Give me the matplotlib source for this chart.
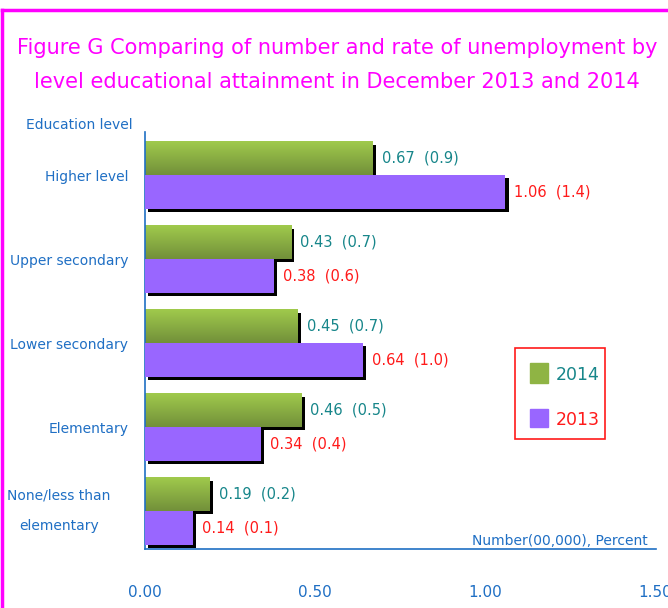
import numpy as np
import matplotlib.pyplot as plt
from matplotlib import patheffects as pe
from matplotlib.patches import Rectangle
from matplotlib.colors import LinearSegmentedColormap
from matplotlib.transforms import blended_transform_factory

# data (number in 00,000 persons, rate in percent)
categories = ["Higher level", "Upper secondary", "Lower secondary",
              "Elementary", "None/less than\nelementary"]
num_2014 = [0.67, 0.43, 0.45, 0.46, 0.19]
rate_2014 = [0.9, 0.7, 0.7, 0.5, 0.2]
num_2013 = [1.06, 0.38, 0.64, 0.34, 0.14]
rate_2013 = [1.4, 0.6, 1.0, 0.4, 0.1]
xticks = [0.0, 0.5, 1.0, 1.5]

W, H = 668, 608
BLUE = "#1f6fc4"
TEAL = "#17868a"
RED = "#ff1a1a"
PURPLE = "#9966ff"
MAGENTA = "#ff00ff"


def fx(x):
    return x / W


def fy(y):
    return 1 - y / H


plt.rcParams['font.family'] = ['DejaVu Sans']
fig = plt.figure(figsize=(W / 100, H / 100), dpi=100)

# magenta frame (top and left edge visible)
fig.add_artist(plt.Line2D([fx(2), fx(2)], [fy(10), 0], color=MAGENTA, lw=2.5))
fig.add_artist(plt.Line2D([fx(2), 1], [fy(10), fy(10)], color=MAGENTA, lw=2.5))

fig.text(fx(337), fy(48), "Figure G Comparing of number and rate of unemployment by",
         ha='center', va='center', color=MAGENTA, fontsize=15)
fig.text(fx(337), fy(82), "level educational attainment in December 2013 and 2014",
         ha='center', va='center', color=MAGENTA, fontsize=15)

ax = fig.add_axes([fx(145), fy(549), fx(656) - fx(145), fy(132) - fy(549)])
n = len(categories)
y = np.arange(n)
h = 0.40
shadow = [pe.SimplePatchShadow(offset=(2.3, -2.3), shadow_rgbFace='black', alpha=1.0),
          pe.Normal()]

grad = np.linspace(0, 1, 64).reshape(-1, 1)
gcmap = LinearSegmentedColormap.from_list("g", ["#a0ca4c", "#72903a"])

gbars = ax.barh(y - h / 2, num_2014, height=h, color="#8fb444", zorder=2,
                path_effects=shadow)
for b, v in zip(gbars, num_2014):
    yy = b.get_y()
    im = ax.imshow(grad, extent=[0, v, yy + h, yy], origin='upper', aspect='auto',
                   cmap=gcmap, zorder=2.5)
    im.set_clip_path(b)
pbars = ax.barh(y + h / 2, num_2013, height=h, color=PURPLE, zorder=3,
                path_effects=shadow)

for i in range(n):
    ax.annotate(f"{num_2014[i]:.2f}  ({rate_2014[i]})", (num_2014[i], y[i] - h / 2),
                xytext=(9, 0), textcoords='offset pixels', va='center',
                color=TEAL, fontsize=10.5)
    ax.annotate(f"{num_2013[i]:.2f}  ({rate_2013[i]})", (num_2013[i], y[i] + h / 2),
                xytext=(9, 0), textcoords='offset pixels', va='center',
                color=RED, fontsize=10.5)

ax.set_xlim(0, (656 - 145) / 340)
ax.set_ylim((549 - 175) / 84, (132 - 175) / 84)
ax.set_xticks(xticks)
ax.set_xticklabels([f"{t:.2f}" for t in xticks])
ax.set_yticks(y[:-1])
ax.set_yticklabels(categories[:-1])
ax.tick_params(axis='x', length=0, pad=26, colors=BLUE, labelsize=11)
ax.tick_params(axis='y', length=0, pad=12, colors=BLUE, labelsize=10)
tr = blended_transform_factory(fig.transFigure, ax.transData)
ax.text(fx(59), y[-1], categories[-1], transform=tr, ha='center', va='center',
        color=BLUE, fontsize=10, linespacing=2.5)
for s in ['top', 'right']:
    ax.spines[s].set_visible(False)
for s in ['left', 'bottom']:
    ax.spines[s].set_color(BLUE)
    ax.spines[s].set_linewidth(1.2)

fig.text(fx(133), fy(125), "Education level", ha='right', va='center',
         color=BLUE, fontsize=10)
fig.text(fx(648), fy(541), "Number(00,000), Percent", ha='right', va='center',
         color=BLUE, fontsize=10)

# legend box
fig.add_artist(Rectangle((fx(515), fy(439)), fx(605) - fx(515), fy(348) - fy(439),
                         transform=fig.transFigure, fill=False, edgecolor=RED, lw=1.2))
fig.add_artist(Rectangle((fx(530), fy(383)), fx(18), fy(363) - fy(383),
                         transform=fig.transFigure, color="#8fb444"))
fig.add_artist(Rectangle((fx(530), fy(427)), fx(18), fy(409) - fy(427),
                         transform=fig.transFigure, color=PURPLE))
fig.text(fx(556), fy(375), "2014", va='center', color=TEAL, fontsize=12.5)
fig.text(fx(556), fy(420), "2013", va='center', color=RED, fontsize=12.5)

fig.savefig("out.png", dpi=100)
